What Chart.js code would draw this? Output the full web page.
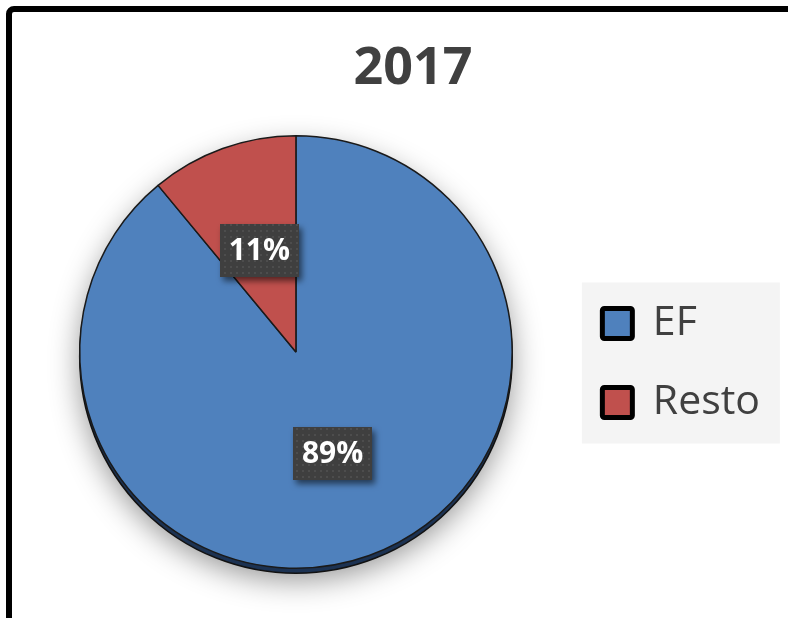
<!DOCTYPE html>
<html>
<head>
<meta charset="utf-8">
<script src="https://cdn.jsdelivr.net/npm/chart.js@4.4.0/dist/chart.umd.min.js"></script>
<style>
  html, body { margin: 0; padding: 0; background: #ffffff; overflow: hidden; }
  #c { display: block; }
</style>
</head>
<body>
<canvas id="c" width="788" height="618"></canvas>
<script>
// ---- data ----
const titleText = '2017';
const categories = ['EF', 'Resto'];
const values = [89, 11];
const sliceColors = ['#4f81bd', '#c0504d'];

// ---- helpers ----
function makeDotPattern(ctx) {
  const c = document.createElement('canvas');
  c.width = 6; c.height = 6;
  const g = c.getContext('2d');
  g.fillStyle = '#3f3f3f';
  g.fillRect(0, 0, 6, 6);
  g.fillStyle = '#4d4d4d';
  g.fillRect(2, 2, 2, 2);
  return ctx.createPattern(c, 'repeat');
}

const background = {
  id: 'background',
  beforeDraw(chart) {
    const ctx = chart.ctx;
    ctx.save();
    ctx.fillStyle = '#ffffff';
    ctx.fillRect(0, 0, chart.width, chart.height);
    // outer frame (left and top edges)
    ctx.beginPath();
    ctx.moveTo(9, chart.height + 5);
    ctx.lineTo(9, 14);
    ctx.arcTo(9, 9, 14, 9, 5);
    ctx.lineTo(chart.width + 5, 9);
    ctx.lineWidth = 6;
    ctx.strokeStyle = '#000000';
    ctx.stroke();
    // legend panel
    const lg = chart.legend;
    if (lg) {
      const mid = (lg.top + lg.bottom) / 2 + 11;
      ctx.fillStyle = '#f4f4f4';
      ctx.fillRect(lg.left + 17.5, mid - 80.5, 198, 161);
    }
    ctx.restore();
  }
};

const titleCenter = {
  id: 'titleCenter',
  afterLayout(chart) {
    const t = chart.titleBlock;
    if (!t) return;
    const shift = 413 - (t.left + t.right) / 2;
    t.left += shift; t.right += shift;
  }
};

const pieShadow = {
  id: 'pieShadow',
  beforeDatasetsDraw(chart) {
    const arc = chart.getDatasetMeta(0).data[0];
    if (!arc) return;
    const {x, y, outerRadius} = arc.getProps(['x', 'y', 'outerRadius'], true);
    const ctx = chart.ctx;
    ctx.save();
    ctx.shadowColor = 'rgba(0,0,0,0.42)';
    ctx.shadowBlur = 30;
    ctx.shadowOffsetY = 7;
    ctx.beginPath();
    ctx.arc(x, y + 5, outerRadius, 0, Math.PI * 2);
    ctx.fillStyle = '#1c3252';
    ctx.fill();
    ctx.restore();
    ctx.save();
    ctx.beginPath();
    ctx.arc(x, y + 5, outerRadius, 0, Math.PI * 2);
    ctx.lineWidth = 1.5;
    ctx.strokeStyle = '#111';
    ctx.stroke();
    ctx.restore();
  }
};

const pctLabels = {
  id: 'pctLabels',
  afterDatasetsDraw(chart) {
    const ctx = chart.ctx;
    const meta = chart.getDatasetMeta(0);
    const data = chart.data.datasets[0].data;
    const total = data.reduce((a, b) => a + b, 0);
    const pattern = makeDotPattern(ctx);
    meta.data.forEach((arc, i) => {
      const p = arc.getCenterPoint();
      const w = 79, h = 53;
      ctx.save();
      ctx.shadowColor = 'rgba(0,0,0,0.55)';
      ctx.shadowBlur = 6;
      ctx.shadowOffsetX = 3;
      ctx.shadowOffsetY = 4;
      ctx.fillStyle = pattern;
      ctx.fillRect(Math.round(p.x - w / 2), Math.round(p.y - h / 2), w, h);
      ctx.restore();
      ctx.save();
      ctx.fillStyle = '#ffffff';
      ctx.font = 'bold 30px "Open Sans"';
      ctx.textAlign = 'center';
      ctx.textBaseline = 'middle';
      ctx.fillText(Math.round(data[i] / total * 100) + '%', p.x, p.y + 1);
      ctx.restore();
    });
  }
};

new Chart(document.getElementById('c'), {
  type: 'pie',
  data: {
    labels: categories,
    datasets: [{
      data: values,
      backgroundColor: sliceColors,
      borderColor: '#1a1a1a',
      borderWidth: 1.5
    }]
  },
  options: {
    responsive: false,
    animation: false,
    events: [],
    layout: { padding: { left: 27.5, right: 18, top: 0, bottom: 49 } },
    plugins: {
      title: {
        display: true,
        text: titleText,
        color: '#404040',
        font: { family: '"Open Sans"', size: 52, weight: 'bold', lineHeight: 1.2 },
        padding: { top: 38, bottom: 34.6 }
      },
      legend: {
        position: 'right',
        align: 'center',
        fullSize: false,
        title: { display: true, text: '', font: { size: 15 }, padding: 2 },
        labels: {
          boxWidth: 30,
          boxHeight: 30,
          padding: 38,
          color: '#404040',
          useBorderRadius: true,
          borderRadius: 2,
          font: { family: '"Open Sans"', size: 41 },
          generateLabels: (chart) => chart.data.labels.map((lab, i) => ({
            text: lab,
            fillStyle: chart.data.datasets[0].backgroundColor[i],
            strokeStyle: '#000000',
            lineWidth: 5,
            borderRadius: 2,
            fontColor: '#404040',
            hidden: false,
            index: i
          }))
        }
      },
      tooltip: { enabled: false }
    }
  },
  plugins: [background, titleCenter, pieShadow, pctLabels]
});
</script>
</body>
</html>
